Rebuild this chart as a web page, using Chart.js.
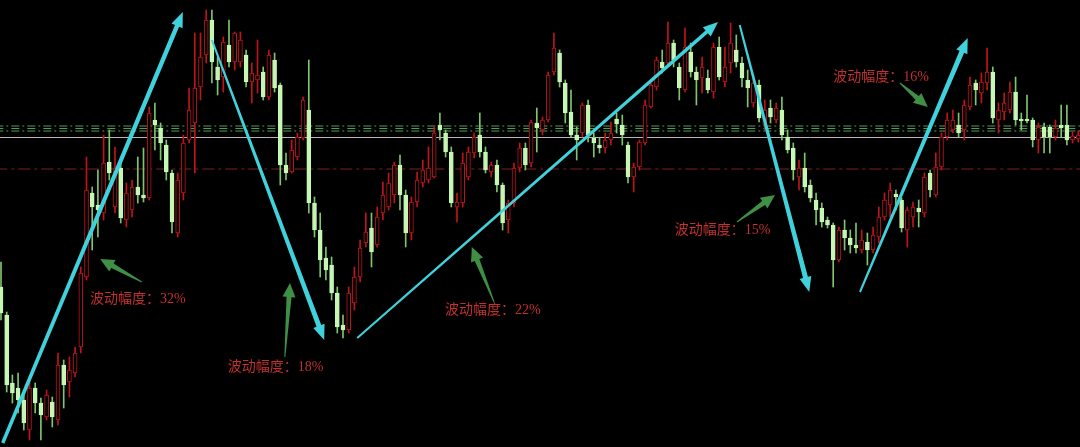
<!DOCTYPE html>
<html>
<head>
<meta charset="utf-8">
<title>波动幅度</title>
<script src="https://cdn.jsdelivr.net/npm/chart.js@4/dist/chart.umd.min.js"></script>
<style>
    html, body { margin: 0; padding: 0; background: #000; }
    #wrap { width: 1080px; height: 447px; position: relative; }
</style>
</head>
<body>
<div id="wrap"><canvas id="kChart"></canvas></div>
<script>
// K线数据 (开 / 高 / 低 / 收)
const opens = [
    160, 132, 64, 59, 47, 17, 59, 44, 30, 45,
    27, 82, 65, 74, 100, 170, 254, 242, 234, 285,
    240, 279, 227, 237, 260, 252, 249, 327, 319, 302,
    274, 214, 254, 307, 324, 360, 392, 427, 380, 370,
    402, 385, 385, 392, 365, 367, 375, 350, 387, 362,
    282, 275, 290, 309, 337, 244, 217, 189, 182, 154,
    122, 117, 144, 170, 204, 219, 202, 234, 240, 252,
    282, 252, 214, 245, 264, 267, 270, 322, 314, 295,
    240, 244, 270, 294, 312, 295, 275, 282, 262, 227,
    244, 279, 299, 284, 324, 317, 327, 375, 394, 364,
    335, 312, 314, 342, 309, 302, 299, 307, 328, 322,
    302, 270, 280, 304, 340, 360, 385, 384, 404, 380,
    357, 395, 375, 369, 369, 355, 400, 365, 384, 397,
    384, 367, 344, 362, 322, 339, 327, 337, 310, 299,
    270, 279, 262, 247, 239, 227, 222, 187, 217, 209,
    202, 197, 205, 197, 210, 230, 242, 253, 247, 217,
    230, 239, 234, 274, 252, 280, 310, 317, 322, 317,
    340, 364, 354, 364, 375, 327, 335, 337, 355, 328,
    328, 327, 307, 320, 320, 310, 322, 322, 307, 308
];
const highs = [
    185, 135, 72, 74, 52, 67, 64, 49, 57, 50,
    94, 87, 90, 100, 180, 290, 260, 277, 312, 317,
    300, 287, 264, 267, 290, 299, 340, 344, 324, 307,
    277, 274, 312, 359, 414, 414, 437, 437, 390, 410,
    427, 415, 415, 397, 384, 407, 380, 397, 394, 364,
    294, 307, 314, 350, 387, 250, 234, 200, 190, 160,
    132, 160, 180, 207, 234, 234, 240, 265, 274, 285,
    292, 257, 250, 275, 287, 300, 320, 334, 317, 300,
    254, 294, 300, 314, 334, 300, 285, 287, 264, 247,
    284, 304, 304, 327, 339, 330, 375, 414, 397, 367,
    357, 320, 344, 347, 314, 309, 314, 325, 334, 332,
    305, 284, 307, 347, 367, 390, 397, 425, 407, 384,
    419, 404, 380, 390, 377, 404, 410, 400, 424, 412,
    390, 377, 372, 367, 347, 347, 344, 350, 317, 304,
    287, 294, 267, 254, 244, 230, 224, 220, 227, 217,
    224, 217, 214, 220, 240, 254, 264, 257, 249, 240,
    245, 247, 274, 277, 294, 314, 334, 337, 334, 347,
    370, 367, 374, 399, 380, 344, 354, 365, 370, 334,
    352, 329, 324, 324, 322, 327, 342, 342, 315, 316
];
const lows = [
    127, 55, 44, 34, 17, 7, 34, 7, 27, 20,
    22, 39, 50, 70, 94, 167, 197, 210, 227, 267,
    234, 224, 220, 230, 244, 245, 247, 297, 287, 267,
    214, 210, 247, 304, 274, 347, 384, 364, 352, 355,
    380, 377, 380, 360, 344, 354, 347, 347, 355, 262,
    267, 274, 287, 307, 234, 210, 170, 167, 147, 114,
    109, 114, 137, 165, 200, 180, 200, 227, 237, 244,
    237, 200, 207, 240, 260, 264, 269, 307, 290, 240,
    225, 240, 267, 289, 290, 274, 270, 255, 217, 214,
    240, 275, 277, 280, 295, 312, 325, 372, 360, 324,
    310, 287, 310, 305, 290, 294, 294, 302, 314, 302,
    264, 255, 277, 302, 339, 357, 374, 382, 380, 347,
    355, 370, 342, 354, 354, 349, 367, 360, 374, 380,
    360, 340, 340, 325, 317, 324, 324, 307, 294, 267,
    257, 255, 245, 222, 220, 219, 160, 185, 197, 194,
    194, 194, 182, 194, 204, 227, 230, 237, 215, 200,
    220, 220, 230, 250, 250, 277, 307, 314, 310, 307,
    337, 342, 344, 357, 324, 314, 327, 334, 322, 317,
    324, 300, 294, 294, 294, 307, 310, 302, 304, 305
];
const closes = [
    134, 62, 54, 47, 24, 59, 44, 32, 52, 30,
    82, 62, 77, 94, 174, 257, 240, 237, 284, 274,
    279, 229, 254, 260, 252, 249, 334, 322, 304, 275,
    225, 267, 304, 337, 359, 390, 427, 385, 367, 405,
    385, 414, 407, 365, 374, 372, 350, 392, 359, 282,
    274, 297, 310, 347, 244, 217, 187, 177, 154, 120,
    117, 154, 170, 199, 215, 195, 230, 252, 264, 282,
    252, 214, 245, 267, 277, 279, 314, 317, 295, 244,
    245, 284, 295, 310, 295, 277, 282, 262, 224, 244,
    279, 299, 282, 325, 319, 327, 372, 399, 365, 334,
    312, 307, 342, 312, 304, 299, 307, 314, 323, 312,
    270, 280, 305, 342, 362, 387, 379, 404, 387, 359,
    400, 375, 367, 380, 357, 400, 370, 380, 404, 385,
    369, 359, 364, 329, 337, 330, 339, 312, 297, 277,
    279, 260, 249, 237, 225, 222, 187, 217, 209, 202,
    199, 207, 197, 212, 230, 247, 257, 250, 219, 237,
    240, 235, 270, 257, 280, 310, 327, 327, 314, 342,
    362, 357, 365, 375, 329, 337, 344, 355, 327, 326,
    326, 307, 320, 310, 310, 319, 319, 307, 311, 312
];

// 水平参考线 (价格)
const greenLevels = [321, 318.5, 316];
const whiteLevel = 309.5;
const redLevel = 278;

// 青色趋势箭头: 起点 / 终点 (K线序号, 价格)
const trendFromX = [0.3, 37.0, 62.5, 129.6, 150.7];
const trendFromY = [4, 407, 109, 422, 155];
const trendToX = [31.9, 56.7, 125.8, 141.8, 169.6];
const trendToY = [435, 107, 425, 155, 409];

// 绿色提示箭头
const hintFromX = [24.7, 49.8, 86.5, 129.1, 157.7];
const hintFromY = [165, 90, 145, 225, 364];
const hintToX = [17.4, 50.7, 82.6, 135.8, 162.6];
const hintToY = [188, 164, 200, 252, 340];

// 注释文字
const noteText = ['波动幅度：32%', '波动幅度：18%', '波动幅度：22%', '波动幅度：15%', '波动幅度：16%'];
const noteX = [15.6, 39.8, 77.9, 118.2, 146.0];
const noteY = [148, 80, 137, 217, 370];

// 颜色
const UP = '#c0141c';
const DOWN_BODY = '#c6f7b4';
const DOWN_WICK = '#7fc46e';
const CYAN = '#3fd2dc';
const HINT = '#3f8f44';

const isUp = opens.map((o, i) => closes[i] >= o);

const wickData = opens.map((o, i) => ({ x: i, y: [lows[i], highs[i]] }));
const bodyData = opens.map((o, i) => {
    let lo = Math.min(o, closes[i]);
    let hi = Math.max(o, closes[i]);
    if (hi - lo < 1.5) hi = lo + 1.5;
    return { x: i, y: [lo, hi] };
});

const datasets = [];

// 箭头线 (由插件画成锥形)
trendFromX.forEach((x, k) => {
    datasets.push({
        type: 'line',
        data: [{ x: x, y: trendFromY[k] }, { x: trendToX[k], y: trendToY[k] }],
        showLine: false, pointRadius: 0,
        borderColor: 'rgba(0,0,0,0)',
        order: 0,
        arrow: { color: CYAN, w0: k === 0 ? 3.5 : 2, w1: k === 0 ? 4.5 : (k === 2 ? 3.5 : 5), headLen: 15, headW: 12 }
    });
});
hintFromX.forEach((x, k) => {
    datasets.push({
        type: 'line',
        data: [{ x: x, y: hintFromY[k] }, { x: hintToX[k], y: hintToY[k] }],
        showLine: false, pointRadius: 0,
        borderColor: 'rgba(0,0,0,0)',
        order: 0,
        arrow: { color: HINT, w0: 1, w1: 5, headLen: 14, headW: 13 }
    });
});

// K线实体
datasets.push({
    type: 'bar',
    data: bodyData,
    grouped: false,
    barThickness: 4,
    borderWidth: 1,
    borderSkipped: false,
    backgroundColor: isUp.map(u => u ? '#000000' : DOWN_BODY),
    borderColor: isUp.map(u => u ? UP : DOWN_BODY),
    order: 1
});
// 影线
datasets.push({
    type: 'bar',
    data: wickData,
    grouped: false,
    barThickness: 1,
    borderWidth: 0,
    backgroundColor: isUp.map(u => u ? UP : DOWN_WICK),
    order: 2
});

// 参考线
greenLevels.forEach((lv, k) => {
    datasets.push({
        type: 'line',
        data: [{ x: -1, y: lv }, { x: 200, y: lv }],
        borderColor: '#4f9a55',
        borderWidth: 1,
        borderDash: k === 1 ? [8, 8] : [8, 3, 2, 3],
        pointRadius: 0,
        order: 3
    });
});
datasets.push({
    type: 'line',
    data: [{ x: -1, y: whiteLevel }, { x: 200, y: whiteLevel }],
    borderColor: '#b8b8b8',
    borderWidth: 1,
    pointRadius: 0,
    order: 3
});
datasets.push({
    type: 'line',
    data: [{ x: -1, y: redLevel }, { x: 200, y: redLevel }],
    borderColor: '#7c2020',
    borderWidth: 1,
    borderDash: [12, 4, 3, 4],
    pointRadius: 0,
    order: 3
});

// 插件: 画锥形箭头
const arrowPlugin = {
    id: 'arrows',
    afterDatasetsDraw(chart) {
        const ctx = chart.ctx;
        chart.data.datasets.forEach((ds, i) => {
            if (!ds.arrow) return;
            const pts = chart.getDatasetMeta(i).data;
            if (pts.length < 2) return;
            const a = ds.arrow;
            const x0 = pts[0].x, y0 = pts[0].y, x1 = pts[1].x, y1 = pts[1].y;
            const len = Math.hypot(x1 - x0, y1 - y0);
            const dx = (x1 - x0) / len, dy = (y1 - y0) / len;
            const nx = -dy, ny = dx;
            const bx = x1 - dx * a.headLen, by = y1 - dy * a.headLen;
            ctx.save();
            ctx.fillStyle = a.color;
            ctx.beginPath();
            ctx.moveTo(x0 + nx * a.w0 / 2, y0 + ny * a.w0 / 2);
            ctx.lineTo(bx + nx * a.w1 / 2, by + ny * a.w1 / 2);
            ctx.lineTo(bx + nx * a.headW / 2, by + ny * a.headW / 2);
            ctx.lineTo(x1, y1);
            ctx.lineTo(bx - nx * a.headW / 2, by - ny * a.headW / 2);
            ctx.lineTo(bx - nx * a.w1 / 2, by - ny * a.w1 / 2);
            ctx.lineTo(x0 - nx * a.w0 / 2, y0 - ny * a.w0 / 2);
            ctx.closePath();
            ctx.fill();
            ctx.restore();
        });
    }
};

// 插件: 注释文字
const notePlugin = {
    id: 'notes',
    afterDatasetsDraw(chart) {
        const ctx = chart.ctx;
        const xs = chart.scales.x, ys = chart.scales.y;
        ctx.save();
        ctx.font = "14px 'Liberation Serif', 'Noto Sans CJK SC', serif";
        ctx.fillStyle = '#c23030';
        ctx.textBaseline = 'middle';
        ctx.textAlign = 'left';
        noteText.forEach((t, k) => {
            ctx.fillText(t, xs.getPixelForValue(noteX[k]), ys.getPixelForValue(noteY[k]));
        });
        ctx.restore();
    }
};

new Chart(document.getElementById('kChart'), {
    data: { datasets: datasets },
    options: {
        responsive: true,
        maintainAspectRatio: false,
        animation: false,
        layout: { padding: 0 },
        plugins: {
            legend: { display: false },
            tooltip: { enabled: false }
        },
        scales: {
            x: { type: 'linear', min: -0.175, max: 189.3, offset: false, grid: { offset: false }, display: false },
            y: { min: 0, max: 447, display: false }
        }
    },
    plugins: [arrowPlugin, notePlugin]
});
</script>
</body>
</html>
